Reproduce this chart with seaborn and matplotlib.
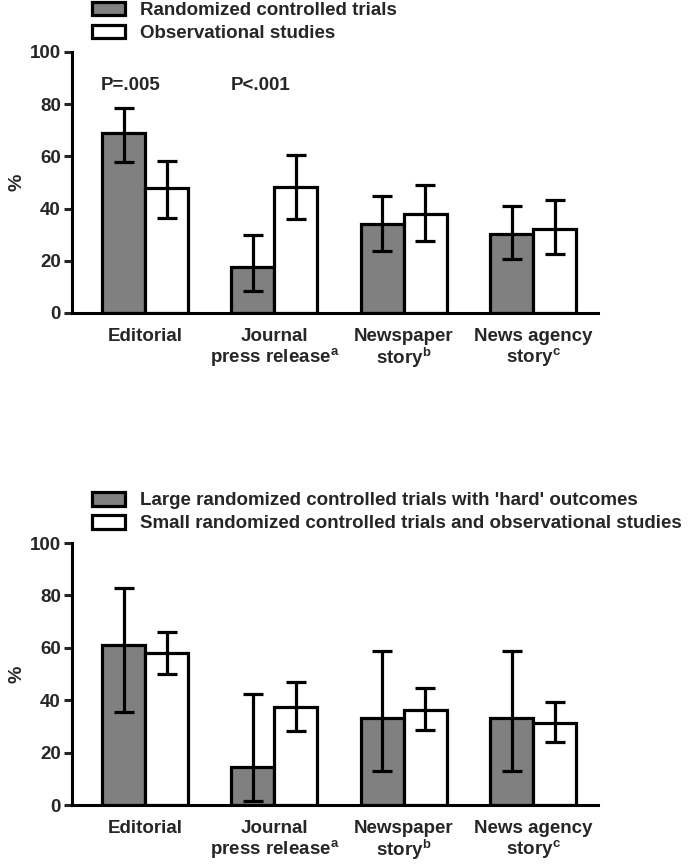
import pandas as pd
import matplotlib
matplotlib.use("Agg")
import matplotlib.pyplot as plt
import seaborn as sns

# Values (% with 95% CI)
sources = ["Editorial", "Journal\npress release$^{a}$", "Newspaper\nstory$^{b}$",
           "News agency\nstory$^{c}$"]

top_groups = ["Randomized controlled trials", "Observational studies"]
top_rct = [69.0, 17.8, 34.0, 30.3]
top_rct_lo = [58.0, 8.5, 23.7, 20.7]
top_rct_hi = [78.6, 29.8, 44.7, 41.0]
top_obs = [47.7, 48.2, 38.0, 32.2]
top_obs_lo = [36.3, 35.9, 27.7, 22.5]
top_obs_hi = [58.4, 60.7, 49.1, 43.2]

bot_groups = ["Large randomized controlled trials with 'hard' outcomes",
              "Small randomized controlled trials and observational studies"]
bot_large = [61.1, 14.4, 33.1, 33.1]
bot_large_lo = [35.6, 1.5, 13.1, 13.1]
bot_large_hi = [83.0, 42.5, 58.8, 58.8]
bot_small = [58.1, 37.4, 36.4, 31.2]
bot_small_lo = [49.9, 28.4, 28.6, 24.0]
bot_small_hi = [66.1, 47.1, 44.7, 39.3]

p_labels = ["P=.005", "P<.001"]

sns.set_theme(style="white")
plt.rcParams["font.family"] = ["Liberation Sans", "DejaVu Sans"]
plt.rcParams["mathtext.default"] = "regular"

fig = plt.figure(figsize=(7, 8.66), dpi=100)
ax_top = fig.add_axes([0.103, 0.6386, 0.751, 0.3014])
ax_bot = fig.add_axes([0.103, 0.0704, 0.751, 0.3025])


def draw_panel(ax, groups, vals, los, his, family, legend_top):
    df = pd.DataFrame({
        "source": sources * 2,
        "group": [groups[0]] * 4 + [groups[1]] * 4,
        "pct": vals[0] + vals[1],
    })
    sns.barplot(data=df, x="source", y="pct", hue="group", order=sources,
                hue_order=groups, palette=["#808080", "white"],
                edgecolor="black", linewidth=2.3, width=0.665, gap=0,
                errorbar=None, saturation=1, ax=ax)
    # error bars centred on each bar
    for cont, v, lo, hi in zip(ax.containers, vals, los, his):
        xs = [b.get_x() + b.get_width() / 2 for b in cont]
        yerr = [[a - b for a, b in zip(v, lo)], [b - a for a, b in zip(v, hi)]]
        ax.errorbar(xs, v, yerr=yerr, fmt="none", ecolor="black",
                    elinewidth=2.3, capsize=7, capthick=2.3, zorder=5)
    ax.set_xlim(-0.565, 3.5)
    ax.set_ylim(0, 100)
    ax.set_yticks([0, 20, 40, 60, 80, 100])
    ax.set_xlabel("")
    ax.set_ylabel("%", fontsize=14, fontweight="bold", family=family)
    ax.yaxis.set_label_coords(-0.088, 0.5)
    sns.despine(ax=ax)
    for s in ["left", "bottom"]:
        ax.spines[s].set_linewidth(2.2)
        ax.spines[s].set_color("black")
    ax.tick_params(axis="y", direction="out", length=6, width=2.2, left=True,
                   labelsize=13.5, pad=2)
    ax.tick_params(axis="x", length=0, labelsize=13.5, pad=11)
    for t in ax.get_yticklabels():
        t.set_fontweight("bold")
        t.set_family(family)
    for t in ax.get_xticklabels():
        t.set_fontweight("bold")
        t.set_family(family)
        t.set_linespacing(1.05)
    handles, labels = ax.get_legend_handles_labels()
    ax.legend(handles, labels, loc="upper left",
              bbox_to_anchor=(0.131, legend_top), bbox_transform=fig.transFigure,
              frameon=False, borderpad=0, borderaxespad=0, handlelength=1.75,
              handleheight=0.75, handletextpad=0.8, labelspacing=0.3,
              prop={"family": family, "weight": "bold", "size": 13.5})


draw_panel(ax_top, top_groups, [top_rct, top_obs], [top_rct_lo, top_obs_lo],
           [top_rct_hi, top_obs_hi], ["Liberation Sans", "DejaVu Sans"], 0.998)
draw_panel(ax_bot, bot_groups, [bot_large, bot_small], [bot_large_lo, bot_small_lo],
           [bot_large_hi, bot_small_hi],
           ["Liberation Sans Narrow", "Liberation Sans", "DejaVu Sans"], 0.432)

for i, lab in enumerate(p_labels):
    ax_top.text(i - 0.11, 87, lab, ha="center", va="center", fontsize=13.5,
                fontweight="bold")

fig.savefig("out.png", dpi=100)
